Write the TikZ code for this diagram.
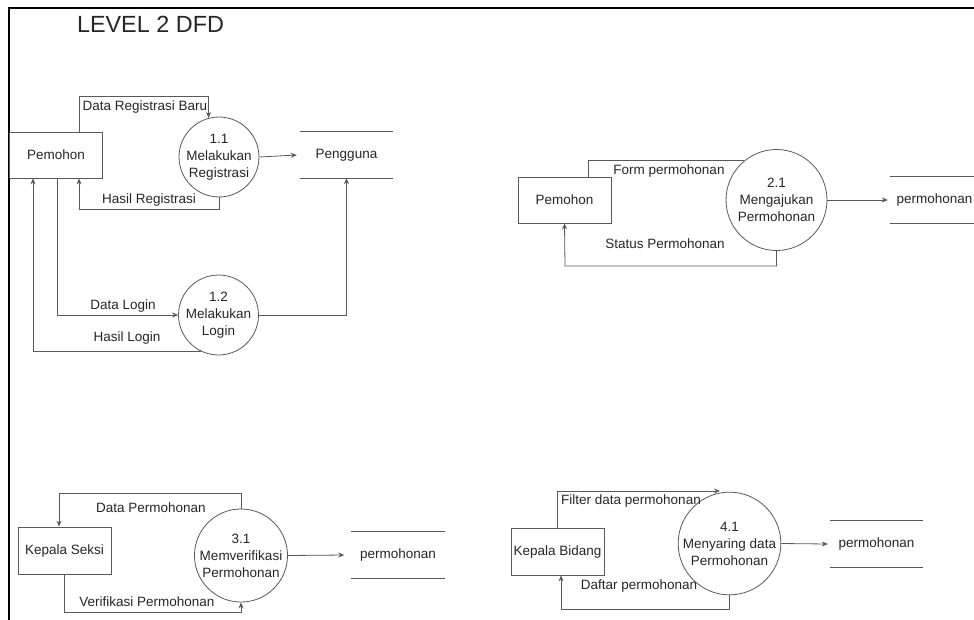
\documentclass[tikz,border=0pt]{standalone}
\usepackage{fontspec}
\setmainfont{Liberation Sans}
\usetikzlibrary{arrows.meta}
\begin{document}
\begin{tikzpicture}[x=1pt,y=-1pt,
  txt/.style={font=\fontsize{13.5}{17}\selectfont, text=black!85, inner sep=0pt},
  entity/.style={draw=black!65, line width=0.8pt, fill=white, minimum width=93pt, minimum height=46pt, inner sep=0pt, font=\fontsize{13.5}{17}\selectfont, text=black!85},
  proc/.style={draw=black!65, line width=0.8pt, fill=white, circle, inner sep=0pt, align=center, font=\fontsize{13.5}{17}\selectfont, text=black!85},
  store/.style={minimum width=93pt, minimum height=46pt, inner sep=0pt, font=\fontsize{13.5}{17}\selectfont, text=black!85},
  flow/.style={draw=black!65, line width=0.8pt},
  arr/.style={flow, -{Stealth[length=6pt,width=5pt]}},
  frameline/.style={draw=black, line width=2pt}
]
\useasboundingbox (0,0) rectangle (974,619);
\coordinate (f1) at (9,625);
\coordinate (f2) at (9,8);
\coordinate (f3) at (980,8);
\draw[frameline] (f1) -- (f2) -- (f3);

\node[font=\fontsize{23.4}{26}\selectfont, text=black!85, inner sep=0pt] (title) at (150.5,24) {LEVEL 2 DFD};

% ---------------- Section 1 ----------------
\node[entity] (p1) at (56,155) {Pemohon};
\node[proc, minimum size=78pt] (c11) at (219,157) {1.1\\Melakukan\\Registrasi};
\node[proc, minimum size=78pt] (c12) at (218.5,315) {1.2\\Melakukan\\Login};
\node[store] (s1) at (346.5,155) {Pengguna};
\draw[flow] (s1.north west) -- (s1.north east);
\draw[flow] (s1.south west) -- (s1.south east);

\coordinate (b1) at (79,96);
\coordinate (b2) at (79,209);
\coordinate (b3) at (57,316);
\coordinate (b4) at (33,350);

\draw[arr] (p1.north -| b1) -- (b1) -| (c11.105);
\draw[arr] (c11.east) -- ([xshift=-3pt]s1.west);
\draw[arr] (c11.south) |- (b2) -- (p1.south -| b2);
\draw[arr] (p1.south -| b3) |- (c12.west);
\draw[arr] (c12.244) -| (p1.south -| b4);
\draw[arr] (c12.east) -| (s1.south);

\node[txt] (l1) at (145,107) {Data Registrasi Baru};
\node[txt] (l2) at (149,200) {Hasil Registrasi};
\node[txt] (l3) at (123,306) {Data Login};
\node[txt] (l4) at (127,338) {Hasil Login};

% ---------------- Section 2 ----------------
\node[entity] (p2) at (564.5,200) {Pemohon};
\node[proc, minimum size=101pt] (c21) at (776.5,200) {2.1\\Mengajukan\\Permohonan};
\node[store, minimum width=90pt, text width=77pt] (s2) at (935,200) {permohonan};
\draw[flow] (s2.north west) -- (s2.north east);
\draw[flow] (s2.south west) -- (s2.south east);

\coordinate (b5) at (588,161);
\coordinate (b6) at (565,266);
\draw[flow] (p2.north -| b5) |- (c21.129);
\draw[arr] (c21.south) |- (b6) -- (p2.south);
\draw[arr] (c21.east) -- ([xshift=-2pt]s2.west);

\node[txt] (l5) at (669,171) {Form permohonan};
\node[txt] (l6) at (665,244) {Status Permohonan};

% ---------------- Section 3 ----------------
\node[entity, minimum height=47pt] (k3) at (64.5,550.5) {Kepala Seksi};
\node[proc, minimum size=92pt] (c31) at (241,555.5) {3.1\\Memverifikasi\\Permohonan};
\node[store] (s3) at (398,555) {permohonan};
\draw[flow] (s3.north west) -- (s3.north east);
\draw[flow] (s3.south west) -- (s3.south east);

\coordinate (b7) at (59,493);
\coordinate (b8) at (64.5,612);
\draw[arr] (c31.north) |- (b7) -- (b7 |- k3.north);
\draw[arr] (k3.south) |- (b8 -| c31.south) -- (c31.south);
\draw[arr] (c31.east) -- ([xshift=-7pt]s3.west);

\node[txt] (l7) at (151,508) {Data Permohonan};
\node[txt] (l8) at (147,602) {Verifikasi Permohonan};

% ---------------- Section 4 ----------------
\node[entity, minimum height=47pt] (k4) at (557.5,551.5) {Kepala Bidang};
\node[proc, minimum size=100pt] (c41) at (729.5,543.5) {4.1\\Menyaring data\\Permohonan};
\node[store] (s4) at (876.5,544) {permohonan};
\draw[flow] (s4.north west) -- (s4.north east);
\draw[flow] (s4.south west) -- (s4.south east);

\coordinate (b9) at (720,491);
\coordinate (b10) at (561,609);
\draw[arr] (k4.north) |- (b9);
\draw[arr] (c41.south) |- (b10) -- (b10 |- k4.south);
\draw[arr] (c41.east) -- ([xshift=-2pt]s4.west);

\node[txt] (l9) at (631,501) {Filter data permohonan};
\node[txt] (l10) at (639,586) {Daftar permohonan};
\end{tikzpicture}
\end{document}
